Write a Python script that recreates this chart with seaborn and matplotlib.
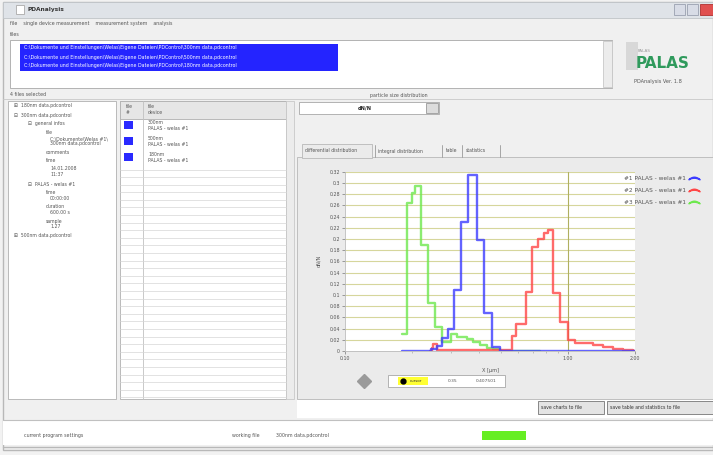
import numpy as np
import pandas as pd
import matplotlib
matplotlib.use("Agg")
import matplotlib.pyplot as plt
import seaborn as sns
from matplotlib.patches import Rectangle
from matplotlib.lines import Line2D
from matplotlib.ticker import FixedLocator, NullFormatter, FuncFormatter

# --- data (step start in µm, dN/N of the step) ---
size_1 = [0.1801, 0.2430, 0.2586, 0.2723, 0.2897, 0.3083, 0.3313, 0.3561, 0.3908, 0.4200, 0.4563, 0.4955, 2.0]
dn_1 = [0.0, 0.004, 0.009, 0.023, 0.040, 0.109, 0.231, 0.314, 0.198, 0.067, 0.008, 0.0, 0.0]

size_2 = [0.2405, 0.2455, 0.2481, 0.2586, 0.5608, 0.5845, 0.6483, 0.6896, 0.7337, 0.7803, 0.8133,
          0.8610, 0.9206, 1.0, 1.075, 1.2945, 1.4355, 1.5913, 1.7644, 1.9563, 2.0]
dn_2 = [0.0, 0.006, 0.012, 0.002, 0.027, 0.049, 0.106, 0.186, 0.200, 0.210, 0.216,
        0.103, 0.052, 0.020, 0.015, 0.010, 0.007, 0.004, 0.002, 0.0, 0.0]

size_3 = [0.1801, 0.1897, 0.1997, 0.2060, 0.2203, 0.2369, 0.2546, 0.2737, 0.3003, 0.3178, 0.3525,
          0.3750, 0.4031, 0.4334, 0.4610, 0.4955, 0.7487]
dn_3 = [0.031, 0.265, 0.282, 0.295, 0.190, 0.085, 0.042, 0.016, 0.030, 0.025, 0.021,
        0.016, 0.011, 0.006, 0.003, 0.0, 0.0]

series_names = ["#1 PALAS - welas #1", "#2 PALAS - welas #1", "#3 PALAS - welas #1"]
series_colors = ["#3c3cff", "#ff4646", "#6ee84e"]
y_ticks = [0, 0.02, 0.04, 0.06, 0.08, 0.1, 0.12, 0.14, 0.16, 0.18, 0.2, 0.22, 0.24, 0.26, 0.28, 0.3, 0.32]
x_ticks = [0.1, 1.0, 2.0]

tree_items = [
    (8, 106, "\u229e  180nm data.pdcontrol"), (8, 115, "\u229f  300nm data.pdcontrol"),
    (22, 123, "\u229f  general infos"), (40, 132, "file"),
    (44, 139, "C:\\Dokumente\\Welas #1\\"), (44, 144, "300nm data.pdcontrol"),
    (40, 153, "comments"), (40, 161, "time"), (44, 169, "14.01.2008"), (44, 175, "11:37"),
    (22, 184, "\u229f  PALAS - welas #1"), (40, 192, "time"), (44, 198, "00:00:00"),
    (40, 206, "duration"), (44, 213, "600.00 s"), (40, 221, "sample"), (44, 227, "1.27"),
    (8, 236, "\u229e  500nm data.pdcontrol"),
]
file_rows = ["300nm", "500nm", "180nm"]

sns.set_theme(style="white")
plt.rcParams["font.family"] = ["DejaVu Sans"]

fig = plt.figure(figsize=(7.13, 4.55), dpi=100)
fig.patch.set_facecolor("#f2f2f2")

# window chrome in pixel coordinates
bg = fig.add_axes([0, 0, 1, 1])
bg.set_xlim(0, 713)
bg.set_ylim(455, 0)
bg.axis("off")


def box(x, y, w, h, fc, ec="none", lw=0.6, z=1):
    bg.add_patch(Rectangle((x, y), w, h, facecolor=fc, edgecolor=ec, linewidth=lw, zorder=z))


def txt(x, y, s, size=3.6, color="#555555", **kw):
    bg.text(x, y, s, fontsize=size, color=color, va="center", zorder=5, **kw)


box(3, 2, 710, 448, "#f0f0f0", "#b8b8b8", 1.0)
box(3, 2, 710, 16, "#dfe3e8", "#c0c4c8")
box(16, 5, 8, 9, "#ffffff", "#aaaaaa")
txt(28, 10, "PDAnalysis", 4.2, "#333333", weight="bold")
box(674, 4, 11, 11, "#d8dce6", "#9aa0b0")
box(687, 4, 11, 11, "#d8dce6", "#9aa0b0")
box(700, 4, 13, 11, "#e05050", "#b03030")
txt(10, 24, "file    single device measurement    measurement system    analysis", 3.4)
txt(10, 34, "files", 3.4)

box(10, 40, 602, 48, "white", "#a8a8a8")
box(603, 41, 9, 46, "#ececec", "#c8c8c8")
box(20, 44, 318, 27, "#2424ff")
for i, yy in enumerate([48, 57, 66]):
    name = ["300nm", "500nm", "180nm"][i]
    txt(24, yy, "C:\\Dokumente und Einstellungen\\Welas\\Eigene Dateien\\PDControl\\" + name + " data.pdcontrol",
        3.4, "white")

box(626, 42, 12, 28, "#d8d8d8")
txt(638, 51, "PALAS", 3.0, "#999999")
txt(636, 63, "PALAS", 11, "#2f9a5c", weight="bold")
txt(634, 82, "PDAnalysis Ver. 1.8", 3.6)

txt(10, 95, "4 files selected", 3.4)
txt(370, 95, "particle size distribution", 3.4)
bg.plot([3, 713], [99, 99], color="#c8c8c8", lw=0.6)

# tree panel
box(8, 101, 108, 298, "white", "#b0b0b0")
for x, y, s in tree_items:
    txt(x + 6, y, s, 3.3)

# file table
box(120, 101, 166, 298, "white", "#b0b0b0")
box(120, 101, 166, 18, "#e6e6e6", "#b0b0b0")
bg.plot([143, 143], [101, 399], color="#c0c0c0", lw=0.6)
txt(126, 106, "file", 3.3)
txt(126, 113, "#", 3.3)
txt(148, 106, "file", 3.3)
txt(148, 113, "device", 3.3)
for i, name in enumerate(file_rows):
    yy = 121 + i * 16
    box(124, yy, 9, 8, "#2a2aff")
    txt(148, yy + 1, name, 3.3)
    txt(148, yy + 7, "PALAS - welas #1", 3.3)
for yy in np.arange(169.5, 399, 7.6):
    bg.plot([120, 286], [yy, yy], color="#d6d6d6", lw=0.5)
box(286, 101, 8, 298, "#ececec", "#c8c8c8")

# distribution panel
box(299, 102, 140, 12, "white", "#a8a8a8")
txt(358, 108, "dN/N", 3.6, "#222222", weight="bold")
box(426, 103, 12, 10, "#dcdcdc", "#999999")
box(297, 157, 416, 242, "#ebebeb", "#b8b8b8")
box(302, 144, 70, 14, "#ebebeb", "#b8b8b8")
txt(305, 151, "differential distribution", 3.3)
txt(378, 151, "integral distribution", 3.3)
txt(446, 151, "table", 3.3)
txt(466, 151, "statistics", 3.3)
for xx in [375, 442, 462, 500]:
    bg.plot([xx, xx], [145, 157], color="#999999", lw=0.6)

bg.plot([364], [381], marker="D", markersize=7, color="#9a9a9a", zorder=6)
box(388, 375, 117, 12, "white", "#a8a8a8")
box(398, 377, 30, 8, "#ffff33")
bg.plot([403], [381], marker="o", markersize=3.5, color="black", zorder=6)
txt(410, 381, "cursor", 2.8, "#333333")
txt(448, 381, "0.35", 3.2)
txt(476, 381, "0.407501", 3.2)

box(297, 400, 416, 18, "white")
box(538, 401, 66, 13, "#e4e4e4", "#777777")
txt(541, 407.5, "save charts to file", 3.3, "#333333")
box(607, 401, 106, 13, "#e4e4e4", "#777777")
txt(610, 407.5, "save table and statistics to file", 3.3, "#333333")

bg.plot([3, 713], [420, 420], color="#c0c0c0", lw=0.8)
box(3, 421, 710, 24, "white")
txt(24, 435, "current program settings", 3.4)
txt(232, 436, "working file", 3.4)
txt(276, 436, "300nm data.pdcontrol", 3.4)
box(482, 431, 44, 9, "#66ee22")
bg.plot([3, 713], [447, 447], color="#b8b8b8", lw=1.0)

# the chart itself
ax = fig.add_axes([345 / 713, 1 - 351 / 455, 290 / 713, 179.3 / 455])
ax.set_facecolor("white")

frames = []
for name, xs, ys in zip(series_names, [size_1, size_2, size_3], [dn_1, dn_2, dn_3]):
    frames.append(pd.DataFrame({"size": xs, "dn": ys, "series": name}))
df = pd.concat(frames, ignore_index=True)

for name, col in zip([series_names[2], series_names[1], series_names[0]],
                     [series_colors[2], series_colors[1], series_colors[0]]):
    sns.lineplot(data=df[df["series"] == name], x="size", y="dn", color=col,
                 drawstyle="steps-post", estimator=None, sort=False, linewidth=1.7,
                 alpha=0.8, ax=ax, legend=False)

ax.set_xscale("log")
ax.set_xlim(0.1, 2.0)
ax.set_ylim(0, 0.32)
ax.xaxis.set_major_locator(FixedLocator(x_ticks))
ax.xaxis.set_major_formatter(FuncFormatter(lambda v, p: f"{v:.2f}"))
ax.xaxis.set_minor_formatter(NullFormatter())
ax.set_yticks(y_ticks)
ax.yaxis.set_major_formatter(FuncFormatter(lambda v, p: f"{v:g}"))
ax.grid(False)
for yv in y_ticks[1:]:
    ax.axhline(yv, color="#d6d69c", lw=0.8, zorder=0)
ax.axvline(1.0, color="#b0b060", lw=0.8, zorder=0)
ax.tick_params(axis="both", which="major", labelsize=3.4, labelcolor="#555555",
               length=2, width=0.5, color="#777777", pad=1.5, bottom=True, left=True)
ax.tick_params(axis="x", which="minor", length=1.2, width=0.4, color="#999999", bottom=True)
for side in ["top", "right"]:
    ax.spines[side].set_visible(False)
for side in ["left", "bottom"]:
    ax.spines[side].set_color("#bbbbbb")
    ax.spines[side].set_linewidth(0.6)
ax.set_xlabel("X [\u00b5m]", fontsize=3.6, color="#555555", labelpad=5)
ax.set_ylabel("dN/N", fontsize=3.6, color="#555555", labelpad=6)

handles = [Line2D([], [], color=c, marker=r"$\frown$", markersize=8, linestyle="none")
           for c in series_colors]
ax.legend(handles, series_names, loc="upper left", bbox_to_anchor=(0.955, 0.99), frameon=False,
          markerfirst=False, fontsize=4.2, labelcolor="#555555", handletextpad=0.3,
          labelspacing=1.2, borderaxespad=0)

fig.savefig("out.png", dpi=100, facecolor=fig.get_facecolor())
